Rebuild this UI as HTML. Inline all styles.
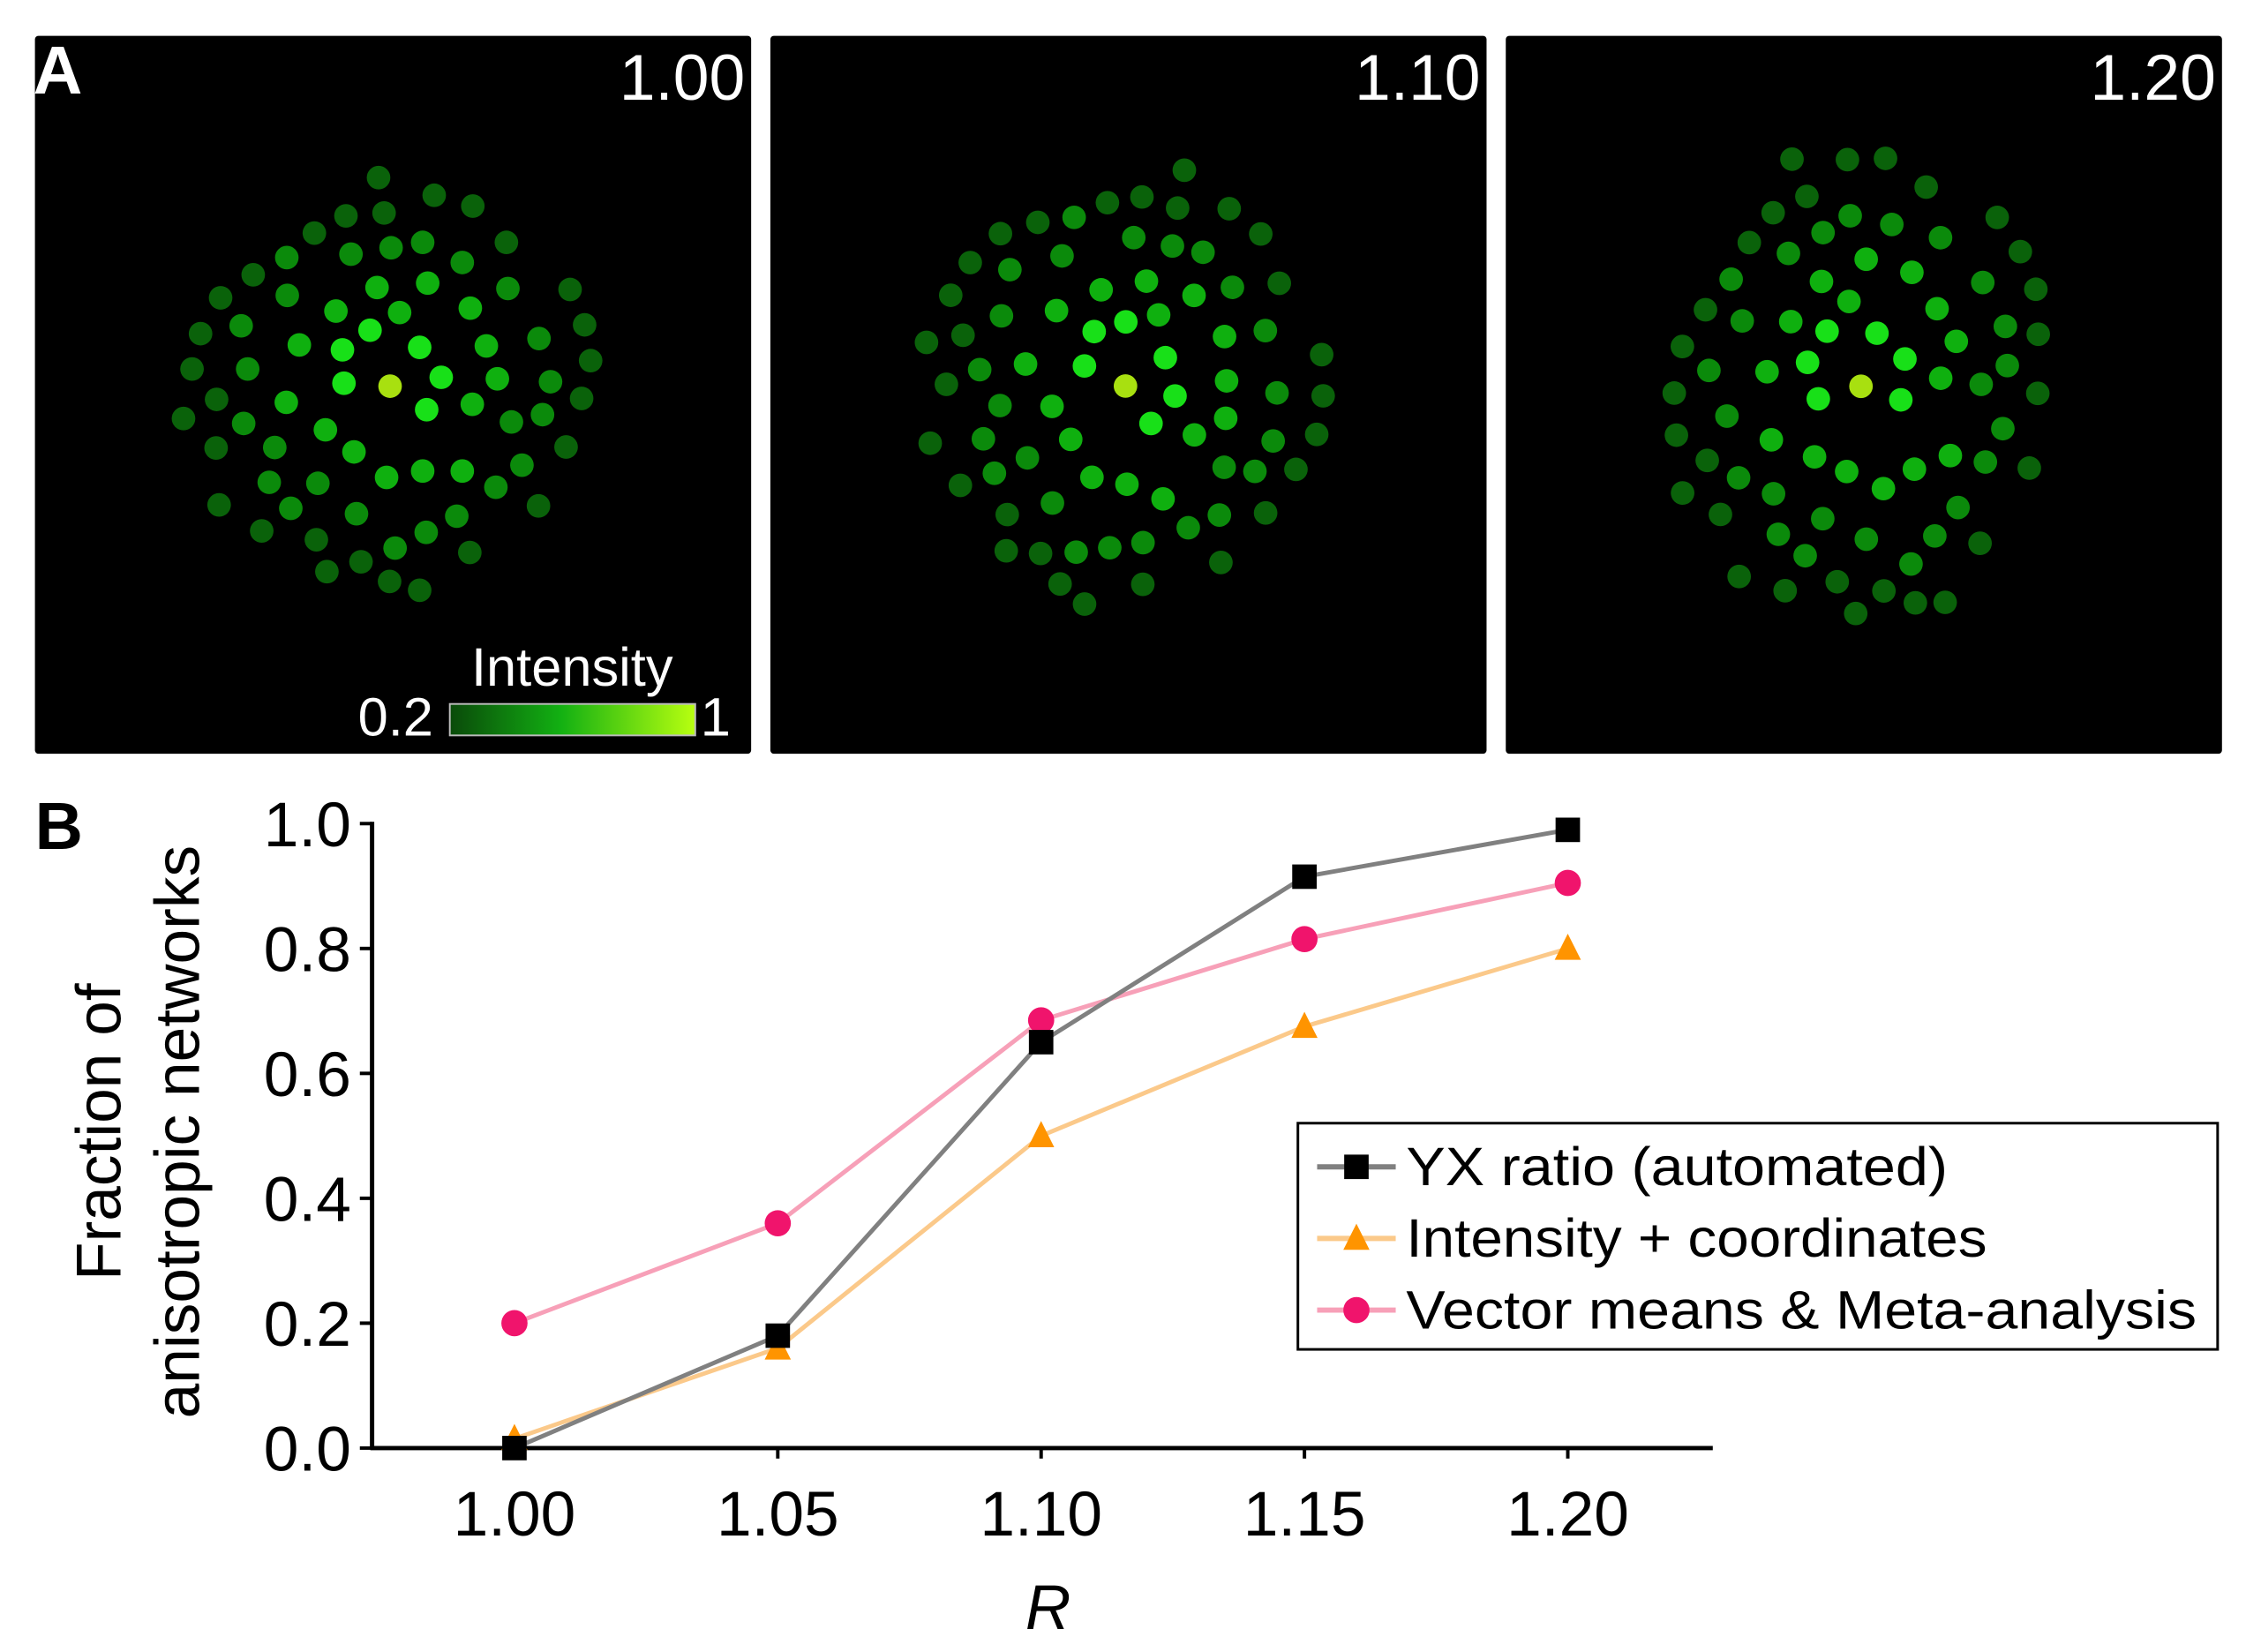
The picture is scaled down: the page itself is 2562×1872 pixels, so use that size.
<!DOCTYPE html>
<html><head><meta charset="utf-8">
<style>
html,body{margin:0;padding:0;background:#fff;}
svg{display:block;font-family:"Liberation Sans",Arial,sans-serif;}
</style></head>
<body>
<svg id="fig" width="2562" height="1872" viewBox="0 0 2562 1872">
<defs>
<linearGradient id="cbar" x1="0" x2="1" y1="0" y2="0">
<stop offset="0" stop-color="#0a4a0a"/><stop offset="0.45" stop-color="#12b012"/><stop offset="1" stop-color="#b8ff10"/>
</linearGradient>
</defs>
<g transform="scale(0.9897)">
<g id="panelA"></g>
<g id="panelB"></g>
</g>
</svg>
<script>
// Panel B data
const categories = [1.00, 1.05, 1.10, 1.15, 1.20];
const tickLabelsX = ["1.00","1.05","1.10","1.15","1.20"];
const tickValuesY = [0,0.2,0.4,0.6,0.8,1.0];
const tickLabelsY = ["0.0","0.2","0.4","0.6","0.8","1.0"];
const yxRatio = [0.0, 0.18, 0.65, 0.915, 0.99];
const intensityCoords = [0.015, 0.16, 0.50, 0.675, 0.80];
const vectorMeans = [0.20, 0.36, 0.685, 0.815, 0.905];
const panelLabels = ["1.00","1.10","1.20"];

const NS="http://www.w3.org/2000/svg";
function mk(tag, attrs, parent){const e=document.createElementNS(NS,tag);for(const k in attrs)e.setAttribute(k,attrs[k]);parent.appendChild(e);return e;}

// ---------- Panel A ----------
const A=document.getElementById('panelA');
const dotsZ=[[755,362],[866,398],[943,420],[690,440],[766,434],[627,475],[1010,494],[572,525],[700,518],[780,505],[843,494],[922,535],[505,560],[573,602],[752,586],[853,577],[1013,588],[1137,590],[440,607],[481,664],[670,634],[797,637],[938,628],[400,680],[738,673],[1166,662],[597,703],[683,713],[837,708],[970,705],[1075,690],[383,752],[494,752],[686,781],[778,787],[880,769],[992,772],[1178,735],[1098,778],[432,814],[571,820],[851,835],[942,824],[1160,812],[366,853],[486,863],[649,876],[1020,860],[1082,845],[431,913],[548,912],[706,921],[1129,911],[537,983],[634,985],[771,973],[843,960],[922,960],[989,993],[1041,948],[437,1029],[580,1036],[711,1047],[850,1085],[911,1052],[1074,1031],[522,1082],[631,1100],[788,1117],[937,1126],[652,1165],[720,1145],[777,1185],[837,1203]];
const panelsX=[40,882,1724];
panelsX.forEach((px,i)=>{
  const r=mk('rect',{x:px,y:41,width:820,height:822,fill:'#000',rx:4},A);
  
  
  const t=mk('text',{x:px+813,y:114,'text-anchor':'end','font-size':74,fill:'#fff'},A);
  t.textContent=panelLabels[i];
  
  
  const cx=px+407, cy=442;
  const sy=[1,1.08,1.16][i], sx=[1,0.97,0.95][i], rot=[0,0.35,-0.3][i];
  dotsZ.forEach(d=>{
    let dx=d[0]/1.742-447, dy=d[1]/1.78-442;
    const dist=Math.hypot(dx,dy);
    const c=Math.cos(rot), s=Math.sin(rot);
    let rx=(dx*c-dy*s)*sx, ry=(dx*s+dy*c)*sy;
    let col = dist<5?'#a8e010': dist<70?'#18e018': dist<130?'#0fb00f': dist<190?'#0b8a0b':'#0a620a';
    const e=mk('circle',{cx:cx+rx,cy:cy+ry,r:13.5,fill:col},A);
    
    
  });
});
const lA=mk('text',{x:38,y:107,'font-size':78,'font-weight':'bold',fill:'#fff'},A);
lA.textContent='A';


const it=mk('text',{x:655,y:785,'text-anchor':'middle','font-size':62,fill:'#fff'},A);
it.textContent='Intensity';


const cb=mk('rect',{x:515,y:806,width:281,height:36,fill:'url(#cbar)',stroke:'#bbb','stroke-width':2},A);


const c0=mk('text',{x:496,y:842,'text-anchor':'end','font-size':62,fill:'#fff'},A);
c0.textContent='0.2';


const c1=mk('text',{x:802,y:842,'font-size':62,fill:'#fff'},A);
c1.textContent='1';



// ---------- Panel B ----------
const B=document.getElementById('panelB');
const X0=589, X1=1795, Y0=1658, Y1=943;
const xs=v=>X0+(v-categories[0])/(categories[categories.length-1]-categories[0])*(X1-X0);
const ys=v=>Y0+(v-0)*(Y1-Y0);
const lb=mk('text',{x:40,y:972,'font-size':76,'font-weight':'bold',fill:'#000'},B);
lb.textContent='B';


const ya=mk('line',{x1:426,y1:Y1-2,x2:426,y2:Y0,stroke:'#000','stroke-width':5},B);


const xa=mk('line',{x1:424,y1:Y0,x2:1961,y2:Y0,stroke:'#000','stroke-width':5},B);


tickValuesY.forEach((v,i)=>{
  const tk=mk('line',{x1:412,x2:426,y1:ys(v),y2:ys(v),stroke:'#000','stroke-width':4},B);
  
  
  const t=mk('text',{x:402,y:ys(v)+26,'text-anchor':'end','font-size':72,fill:'#000'},B);
  t.textContent=tickLabelsY[i];
  
  
});
categories.forEach((v,i)=>{
  const tk=mk('line',{x1:xs(v),x2:xs(v),y1:Y0,y2:Y0+12,stroke:'#000','stroke-width':4},B);
  
  
  const t=mk('text',{x:xs(v),y:1758,'text-anchor':'middle','font-size':72,fill:'#000'},B);
  t.textContent=tickLabelsX[i];
  
  
});
const xt=mk('text',{x:1200,y:1865,'text-anchor':'middle','font-size':72,'font-style':'italic',fill:'#000'},B);
xt.textContent='R';


const yt=mk('text',{transform:'translate(138,1296) rotate(-90)','text-anchor':'middle','font-size':72,fill:'#000'},B);
yt.textContent='Fraction of';


const yt2=mk('text',{transform:'translate(228,1296) rotate(-90)','text-anchor':'middle','font-size':72,fill:'#000'},B);
yt2.textContent='anisotropic networks';



function marker(type,x,y,col,parent){
  if(type==='square') return mk('rect',{x:x-14,y:y-14,width:28,height:28,fill:col},parent);
  if(type==='tri') return mk('polygon',{points:`${x},${y-17} ${x+15},${y+13} ${x-15},${y+13}`,fill:col},parent);
  return mk('circle',{cx:x,cy:y,r:15,fill:col},parent);
}
const series=[
  {name:'vector-means',vals:vectorMeans,line:'#f7a0b8',mcol:'#f0146c',m:'circle'},
  {name:'intensity-coordinates',vals:intensityCoords,line:'#fbc98a',mcol:'#ff9400',m:'tri'},
  {name:'yx-ratio',vals:yxRatio,line:'#808080',mcol:'#000',m:'square'}
];
series.forEach(s=>{
  const g=mk('g',{},B);
  
  
  const pts=s.vals.map((v,i)=>xs(categories[i])+','+ys(v)).join(' ');
  const pl=mk('polyline',{points:pts,fill:'none',stroke:s.line,'stroke-width':5},g);
  
  
  s.vals.forEach((v,i)=>{
    const m=marker(s.m,xs(categories[i]),ys(v),s.mcol,g);
    
    
  });
});
// legend
const L=mk('g',{},B);


const lr=mk('rect',{x:1486,y:1286,width:1053,height:259,fill:'#fff',stroke:'#000','stroke-width':3},L);


const legItems=[
  {label:'YX ratio (automated)',line:'#808080',mcol:'#000',m:'square',w:620},
  {label:'Intensity + coordinates',line:'#fbc98a',mcol:'#ff9400',m:'tri',w:665},
  {label:'Vector means & Meta-analysis',line:'#f7a0b8',mcol:'#f0146c',m:'circle',w:905}
];
legItems.forEach((it,i)=>{
  const cy=1336+i*82;
  const g=mk('g',{},L);
  
  
  mk('line',{x1:1508,x2:1598,y1:cy,y2:cy,stroke:it.line,'stroke-width':6},g);
  marker(it.m,1553,cy,it.mcol,g);
  const t=mk('text',{x:1610,y:cy+21,'font-size':62,fill:'#000',textLength:it.w,lengthAdjust:'spacingAndGlyphs'},g);
  t.textContent=it.label;
});
</script>
</body></html>
